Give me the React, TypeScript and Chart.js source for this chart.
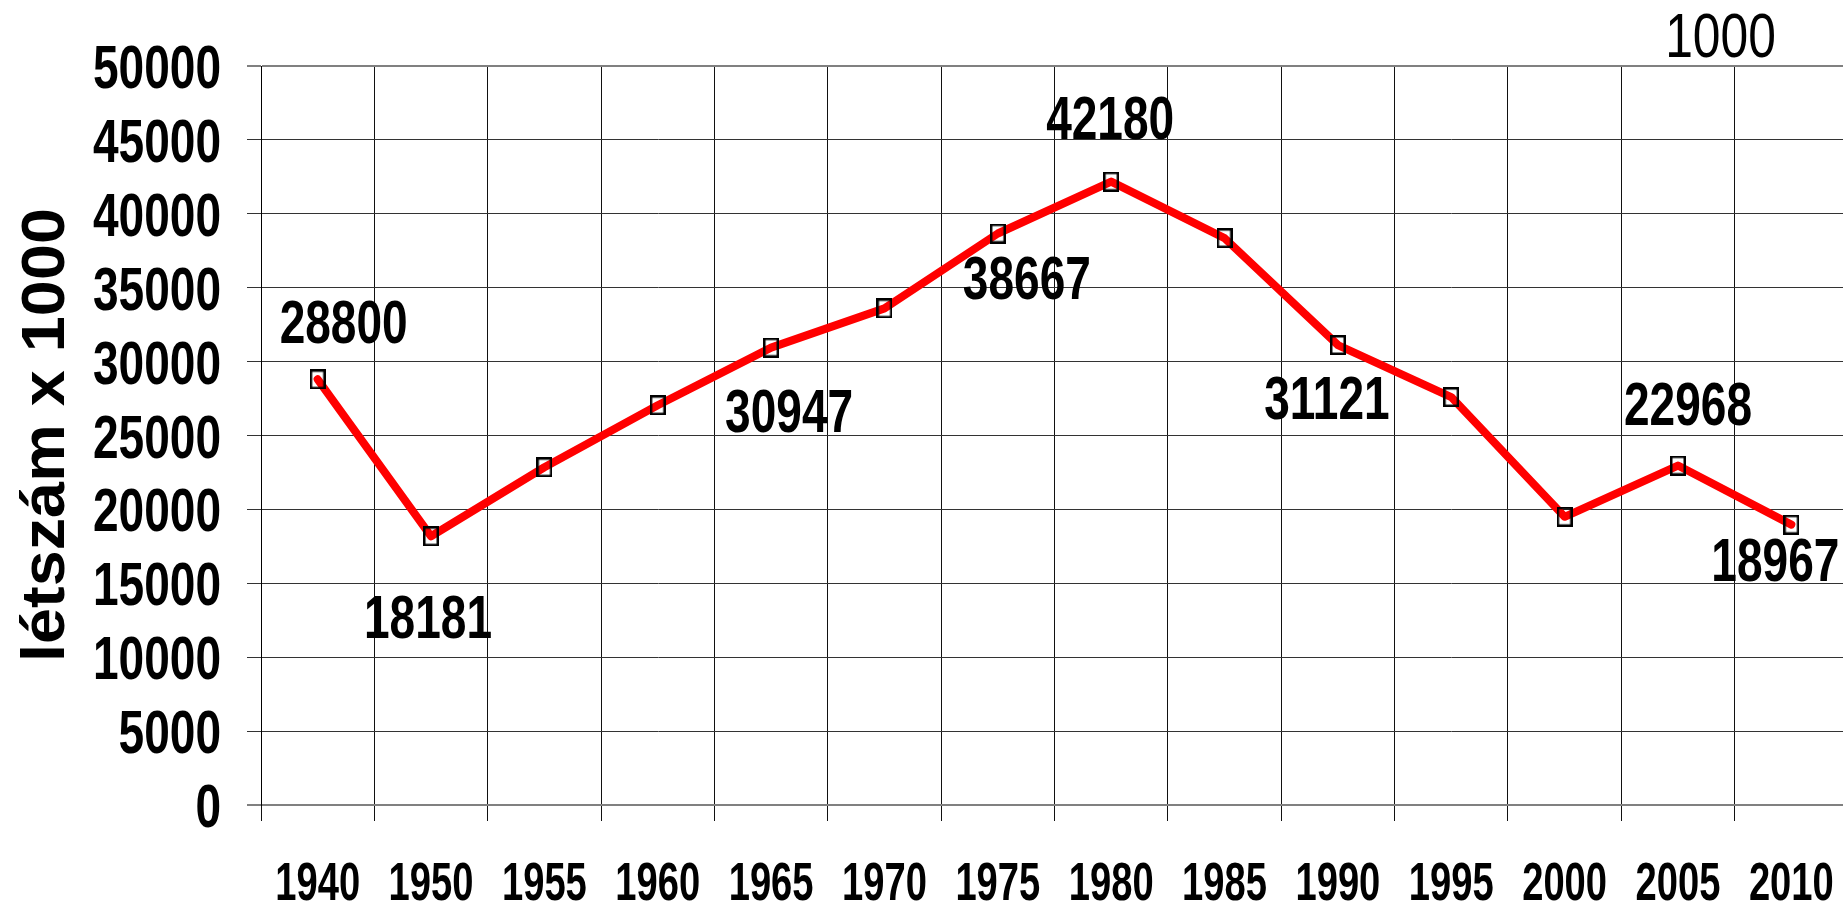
import React, { useEffect, useRef } from 'react';
import { Chart, registerables } from 'chart.js';

Chart.register(...registerables);

// ---- data ----
const years = ['1940', '1950', '1955', '1960', '1965', '1970', '1975', '1980', '1985', '1990', '1995', '2000', '2005', '2010'];
const population = [28800, 18181, 22850, 27050, 30947, 33600, 38667, 42180, 38350, 31121, 27600, 19500, 22968, 18967];
const showLabel = [true, true, false, false, true, false, true, true, false, true, false, false, true, true];
const yMin = 0;
const yMax = 50000;
const yStep = 5000;
const unitNote = '1000';
const yTitle = 'létszám x 1000';

// ---- label offsets (style, pixels relative to the point) ----
const labelOffsets: ([number, number] | null)[] = [
  [26, -58], [-3, 80], null, null, [18, 62], null, [29, 43], [-1, -65],
  null, [-11, 52], null, null, [10, -63], [-16, 34],
];

const WIDE = '"Liberation Sans", Arial, sans-serif';
const CANVAS_W = 1865;

function makeMarker(): HTMLCanvasElement {
  const c = document.createElement('canvas');
  c.width = 16;
  c.height = 20;
  const g = c.getContext('2d')!;
  g.strokeStyle = '#000';
  g.lineWidth = 2.5;
  g.strokeRect(1.25, 1.25, 13.5, 17.5);
  return c;
}

// draw horizontally condensed text (alphabetic baseline)
function drawText(ctx: CanvasRenderingContext2D, text: string, x: number, y: number, font: string, sx: number, align: CanvasTextAlign) {
  ctx.save();
  ctx.translate(x, y);
  ctx.scale(sx, 1);
  ctx.font = font;
  ctx.fillStyle = '#000';
  ctx.textAlign = align;
  ctx.textBaseline = 'alphabetic';
  ctx.fillText(text, 0, 0);
  ctx.restore();
}

const textPlugin = {
  id: 'textPlugin',
  afterDatasetsDraw(chart: any) {
    const ctx = chart.ctx;
    const meta = chart.getDatasetMeta(0);
    meta.data.forEach((pt: any, i: number) => {
      const off = labelOffsets[i];
      if (!showLabel[i] || !off) return;
      drawText(ctx, String(population[i]), pt.x + off[0], pt.y + off[1] + 22, `bold 61px ${WIDE}`, 0.755, 'center');
    });
  },
  afterDraw(chart: any) {
    const ctx = chart.ctx;
    const xs = chart.scales.x;
    const ys = chart.scales.y;
    // y tick labels
    ys.ticks.forEach((t: any) => {
      const py = ys.getPixelForValue(t.value);
      drawText(ctx, String(t.value), 221, py + 22, `bold 61px ${WIDE}`, 0.755, 'right');
    });
    // x tick labels
    years.forEach((lab, i) => {
      const px = xs.getPixelForValue(i);
      drawText(ctx, lab, px, 900, `bold 53px ${WIDE}`, 0.72, 'center');
    });
    // unit note top right
    drawText(ctx, unitNote, 1720.5, 57, `63px ${WIDE}`, 0.79, 'center');
    // rotated y title
    ctx.save();
    ctx.fillStyle = '#000';
    ctx.font = `bold 62px ${WIDE}`;
    const w = ctx.measureText(yTitle).width;
    const sx = 454 / w;
    ctx.translate(63.5, 435);
    ctx.rotate(-Math.PI / 2);
    ctx.scale(sx, 1);
    ctx.textAlign = 'center';
    ctx.textBaseline = 'alphabetic';
    ctx.fillText(yTitle, 0, 0);
    ctx.restore();
  },
};

export default function App() {
  const ref = useRef<HTMLCanvasElement | null>(null);

  useEffect(() => {
    if (!ref.current) return;
    const marker = makeMarker();
    const chart = new Chart(ref.current, {
      type: 'line',
      data: {
        labels: years,
        datasets: [
          {
            data: population,
            borderColor: '#ff0000',
            borderWidth: 8,
            borderJoinStyle: 'round',
            borderCapStyle: 'round',
            tension: 0,
            fill: false,
            pointStyle: marker as any,
            pointRadius: 9,
            pointHoverRadius: 9,
          },
        ],
      },
      options: {
        responsive: false,
        animation: false,
        devicePixelRatio: 1,
        layout: { padding: { top: 66, right: 3, left: 0, bottom: 0 } },
        plugins: {
          legend: { display: false },
          tooltip: { enabled: false },
          title: { display: false },
        },
        scales: {
          x: {
            type: 'category',
            offset: true,
            grid: {
              offset: true,
              color: '#111',
              lineWidth: 1,
              tickLength: 16,
              drawTicks: true,
            },
            border: { display: true, color: '#808080', width: 2 },
            ticks: { display: false, autoSkip: false, maxRotation: 0 },
            afterFit: (s: any) => {
              s.height = 100;
            },
          },
          y: {
            min: yMin,
            max: yMax,
            ticks: { display: false, stepSize: yStep },
            grid: {
              color: (c: any) => (c.tick && (c.tick.value === yMax || c.tick.value === yMin) ? '#808080' : '#333'),
              lineWidth: (c: any) => (c.tick && (c.tick.value === yMax || c.tick.value === yMin) ? 2 : 1),
              tickLength: 14,
              drawTicks: true,
            },
            border: { display: true, color: '#000', width: 1 },
            afterFit: (s: any) => {
              s.width = 261;
            },
          },
        },
      },
      plugins: [textPlugin],
    });
    return () => chart.destroy();
  }, []);

  return (
    <div
      style={{
        position: 'fixed',
        left: 0,
        top: 0,
        width: 1843,
        height: 905,
        overflow: 'hidden',
        background: '#fff',
      }}
    >
      <canvas ref={ref} width={CANVAS_W} height={905} style={{ display: 'block', width: CANVAS_W, height: 905 }} />
    </div>
  );
}
